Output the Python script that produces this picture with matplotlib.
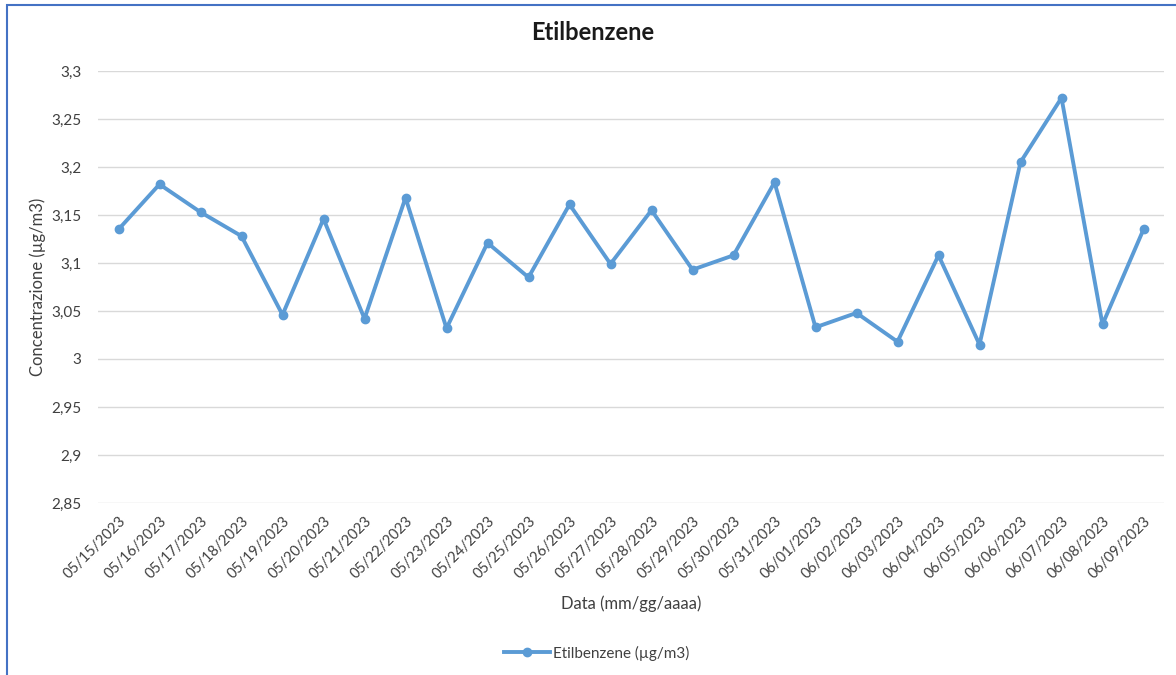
import numpy as np
import matplotlib
matplotlib.use('Agg')
import matplotlib.pyplot as plt
from matplotlib.patches import Rectangle
from matplotlib.ticker import FuncFormatter

plt.rcParams['font.family'] = ['Lato', 'DejaVu Sans']

# dati
date = ['05/15/2023', '05/16/2023', '05/17/2023', '05/18/2023', '05/19/2023',
        '05/20/2023', '05/21/2023', '05/22/2023', '05/23/2023', '05/24/2023',
        '05/25/2023', '05/26/2023', '05/27/2023', '05/28/2023', '05/29/2023',
        '05/30/2023', '05/31/2023', '06/01/2023', '06/02/2023', '06/03/2023',
        '06/04/2023', '06/05/2023', '06/06/2023', '06/07/2023', '06/08/2023',
        '06/09/2023']
etilbenzene = [3.135, 3.182, 3.153, 3.128, 3.046, 3.146, 3.042, 3.168, 3.032, 3.121,
               3.085, 3.161, 3.099, 3.155, 3.093, 3.108, 3.184, 3.033, 3.048, 3.018,
               3.108, 3.015, 3.205, 3.272, 3.036, 3.135]
y_ticks = [2.85, 2.9, 2.95, 3.0, 3.05, 3.1, 3.15, 3.2, 3.25, 3.3]

fig = plt.figure(figsize=(11.76, 6.75), dpi=100)
ax = fig.add_axes([98/1176, 1 - 503/675, (1164 - 98)/1176, (503 - 71)/675])

# cornice blu
fig.patches.append(Rectangle((7/1176, -0.05), 1.1, 1 - 5/675 + 0.05, transform=fig.transFigure,
                             fill=False, edgecolor='#4472C4', linewidth=1.5))

x = np.arange(len(date))
ax.plot(x, etilbenzene, color='#5B9BD5', linewidth=2.8, marker='o', markersize=6,
        label='Etilbenzene (µg/m3)', solid_joinstyle='round')

ax.set_xlim(-0.5, len(date) - 0.5)
ax.set_ylim(2.85, 3.3)
ax.set_yticks(y_ticks)
ax.yaxis.set_major_formatter(FuncFormatter(lambda v, p: ('%g' % round(v, 2)).replace('.', ',')))
ax.set_xticks(x)
ax.set_xticklabels(date, rotation=45, ha='right', rotation_mode='anchor', fontsize=10.5, color='#404040')
ax.tick_params(axis='y', labelsize=11, labelcolor='#404040', length=0, pad=12)
ax.tick_params(axis='x', length=0, pad=8)
ax.grid(axis='y', color='#D9D9D9', linewidth=1)
ax.set_axisbelow(True)
for s in ax.spines.values():
    s.set_visible(False)

fig.text(593/1176, 1 - 32/675, 'Etilbenzene', fontsize=17, fontweight='bold',
         color='#1a1a1a', ha='center', va='center')
ax.set_xlabel('Data (mm/gg/aaaa)', fontsize=12, color='#404040', labelpad=10)
ax.set_ylabel('Concentrazione (µg/m3)', fontsize=12, color='#404040')
ax.yaxis.set_label_coords((46 - 98)/1066, 0.5)

fig.legend(loc='center', bbox_to_anchor=(597/1176, 1 - 653/675), frameon=False, fontsize=11,
           handlelength=3, labelcolor='#404040', handletextpad=0.2)

fig.savefig('out.png', dpi=100)
